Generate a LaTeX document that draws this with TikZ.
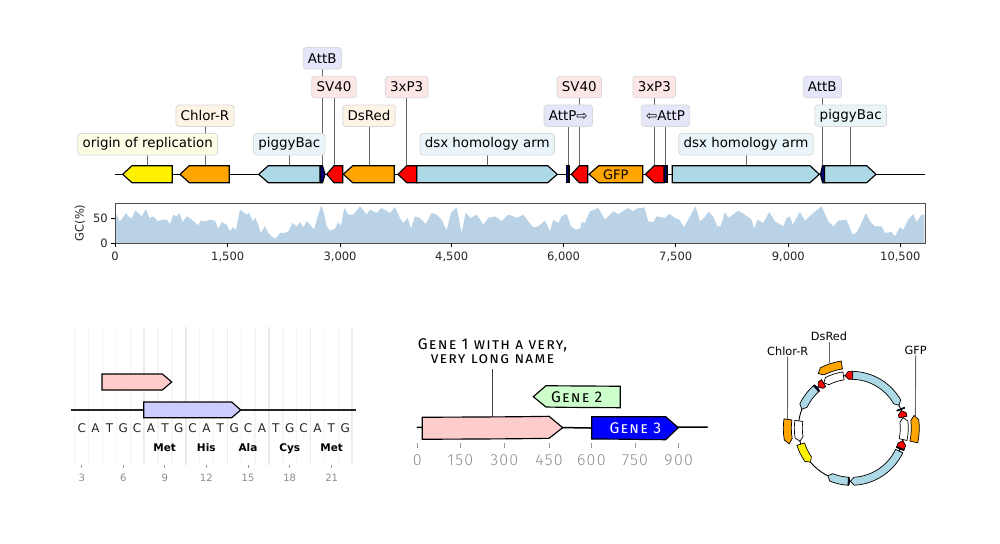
\documentclass[tikz,border=0pt]{standalone}
\usepackage{fontspec}
\setmainfont{DejaVu Sans}
\newfontfamily\comicfont[Letters=SmallCaps,LetterSpace=8]{Fira Sans}
\newfontfamily\comicnumfont[LetterSpace=8]{Fira Sans Light}
\usetikzlibrary{backgrounds}
\definecolor{tintyellow}{HTML}{FDFDE6}
\definecolor{tintorange}{HTML}{FDF4E5}
\definecolor{tintblue}{HTML}{E9F5F8}
\definecolor{tintred}{HTML}{FDE6E6}
\definecolor{tintnavy}{HTML}{E6E6FA}
\definecolor{gcfill}{HTML}{B9D2E6}
\definecolor{navy}{HTML}{000080}
\definecolor{orange}{HTML}{FFA500}
\definecolor{geneblue}{HTML}{ADD8E6}
\definecolor{genepink}{HTML}{FFCCCC}
\definecolor{genelilac}{HTML}{CCCCFF}
\definecolor{genemint}{HTML}{CCFFCC}
\begin{document}
\begin{tikzpicture}[x=1pt, y=-1pt,
    tag/.style={draw=black!15, line width=0.8pt, rounded corners=3pt, minimum height=21.5pt, inner xsep=4.8pt, inner ysep=0pt, font=\fontsize{13.4}{15}\selectfont},
    tagline/.style={draw=black!60, line width=0.9pt},
    gene/.style={draw=black, line width=1.15pt, line join=miter},
    backbone/.style={draw=black, line width=1.6pt},
    tick/.style={draw=black, line width=0.8pt},
    ticktext/.style={font=\fontsize{11.5}{13}\selectfont, text=black!85, inner sep=0pt},
    gridline/.style={draw=black!4, line width=1.4pt},
    griddark/.style={draw=black!8, line width=1.6pt},
    seqtick/.style={draw=black!40, line width=0.8pt},
    seqnum/.style={font=\fontsize{10}{12}\selectfont, text=black!45, inner sep=0pt, anchor=base},
    comic/.style={font=\comicfont\fontsize{15.5}{14.5}\selectfont, align=center, inner sep=0pt},
    comicnum/.style={font=\comicnumfont\fontsize{16}{14}\selectfont, text=black!45, inner sep=0pt, anchor=base},
    ringtag/.style={font=\fontsize{11.3}{13}\selectfont, inner sep=1pt}
]
    \useasboundingbox (0,0) rectangle (1000,543);

    % Top: linear map with stacked labels
    \draw[backbone] (115,174.3) -- (925,174.3);
    \foreach \name/\x/\y/\txt/\tint in {
        Ori/147.7/144.3/origin of replication/tintyellow,
        Chlor/205/115.7/Chlor-R/tintorange,
        PigA/289.3/144.3/piggyBac/tintblue,
        AttBa/322.3/58.3/AttB/tintnavy,
        SVa/334/87/SV40/tintred,
        Red/369/115.7/DsRed/tintorange,
        PThreeA/406.7/87/3xP3/tintred,
        DsxA/487.2/144.3/dsx homology arm/tintblue,
        AttPa/568.3/115.7/AttP⇨/tintnavy,
        SVb/579.3/87/SV40/tintred,
        PThreeB/654.3/87/3xP3/tintred,
        AttPb/665.5/115.7/⇦AttP/tintnavy,
        DsxB/746/144.3/dsx homology arm/tintblue,
        AttBb/822.3/87/AttB/tintnavy,
        PigB/850.7/115.7/piggyBac/tintblue} {
        \node[tag, fill=\tint] (tag\name) at (\x,\y) {\txt};
        \coordinate (ft\name) at (\x,165.7);
        \begin{scope}[on background layer]
            \draw[tagline] (tag\name) -- (ft\name);
        \end{scope}
    }
    \foreach \tip/\sh/\bk/\col in {
        122.7/132/172.3/yellow, 180/189.3/229.3/orange, 258.7/268.3/320/geneblue,
        325/322.5/320.5/navy, 326.7/334/342.7/red, 343.3/352.7/394.3/orange,
        398/406.7/416.7/red, 557.3/547.7/416.7/geneblue, 566.7/566.7/569/navy,
        571.3/579.3/587.7/red, 589/598.7/642.7/orange, 645.3/654.3/664/red,
        664.7/664.7/667/navy, 819.3/810/672.3/geneblue, 820.5/822.5/824.5/navy,
        876/866.7/824.5/geneblue} {
        \draw[gene, fill=\col] (\tip,174.3) -- (\sh,165.7) -- (\bk,165.7) -- (\bk,182.7) -- (\sh,182.7) -- cycle;
    }
    \node[font=\fontsize{13}{15}\selectfont, inner sep=0pt] (txtGfp) at (615.8,174.3) {GFP};

    % GC content under the map
    \begin{scope}[shift={(110,198)}, x=0.3333pt, y=-0.3333pt]
        \fill[gcfill] (15,135) -- plot coordinates {
            (15,40)(22,55)(28,70)(35,65)(40,55)(48,45)(55,55)(65,62)(75,38)(85,45)(95,55)(108,33)(118,60)
            (130,55)(145,70)(155,65)(170,65)(180,78)(190,50)(200,55)(208,45)(218,72)(230,55)(245,65)(265,82)
            (272,68)(285,70)(300,65)(315,68)(325,92)(335,72)(350,80)(360,100)(368,88)(378,95)(390,35)(400,42)
            (410,50)(418,45)(428,70)(436,60)(445,80)(452,105)(465,85)(475,105)(485,115)(497,122)(510,105)
            (525,105)(535,100)(548,75)(560,85)(570,72)(580,88)(590,70)(600,80)(612,95)(622,60)(634,22)(642,45)
            (650,85)(660,98)(675,92)(685,72)(693,85)(703,30)(715,50)(730,50)(750,25)(770,50)(780,35)(800,45)
            (815,30)(840,45)(855,27)(870,60)(880,75)(893,60)(903,92)(915,55)(930,60)(947,78)(965,45)(980,50)
            (995,65)(1010,97)(1023,45)(1040,28)(1055,105)(1067,45)(1083,60)(1100,50)(1120,80)(1135,60)(1155,55)
            (1175,70)(1195,50)(1210,55)(1220,60)(1240,50)(1255,70)(1270,88)(1285,85)(1305,68)(1320,100)(1330,65)
            (1345,75)(1355,55)(1370,48)(1383,85)(1397,95)(1410,92)(1415,72)(1425,75)(1440,40)(1465,30)(1485,65)
            (1510,40)(1525,48)(1555,30)(1570,40)(1580,32)(1603,28)(1615,70)(1630,72)(1640,55)(1665,60)(1678,48)
            (1695,60)(1708,65)(1722,88)(1740,55)(1757,25)(1770,70)(1782,60)(1795,42)(1810,55)(1822,85)(1832,85)
            (1845,42)(1855,60)(1885,38)(1905,50)(1925,65)(1933,92)(1943,65)(1960,75)(1978,42)(1995,70)(2020,85)
            (2030,60)(2040,55)(2048,80)(2070,42)(2085,68)(2110,45)(2135,25)(2155,70)(2170,85)(2185,68)(2210,65)
            (2228,110)(2240,103)(2250,85)(2268,45)(2280,70)(2295,85)(2315,85)(2325,105)(2345,102)(2355,115)
            (2370,88)(2380,95)(2395,65)(2410,48)(2420,72)(2435,50)(2443,50)} -- (2443,135) -- cycle;
    \end{scope}
    \node[draw=black!70, line width=0.9pt, minimum width=810pt, minimum height=40.6pt, inner sep=0pt, anchor=north west] (gcframe) at (115,202.7) {};
    \foreach \x/\txt in {115/0, 227.7/{1,500}, 340/{3,000}, 451.7/{4,500}, 563.5/{6,000}, 675.7/{7,500}, 788.3/{9,000}, 900.3/{10,500}} {
        \draw[tick] (\x,243.3) -- (\x,247);
        \node[ticktext, anchor=base] at (\x,260.9) {\txt};
    }
    \foreach \y/\txt in {243.3/0, 218.3/50} {
        \draw[tick] (115,\y) -- (111,\y);
        \node[ticktext, anchor=east] at (108,\y) {\txt};
    }
    \node[ticktext, rotate=90] (gclabel) at (80,223) {GC(\%)};

    % Bottom left: sequence view
    \foreach \p in {2.5,3.5,...,22.5} {
        \draw[gridline] ({81.7+(\p-3)*13.87},327) -- ({81.7+(\p-3)*13.87},465);
    }
    \foreach \p in {7.5,10.5,...,22.5} {
        \draw[griddark] ({81.7+(\p-3)*13.87},327) -- ({81.7+(\p-3)*13.87},465);
    }
    \draw[gene, fill=genepink] (171.7,382) -- (162.3,374) -- (102,374) -- (102,390) -- (162.3,390) -- cycle;
    \draw[backbone, draw=black!85] (70.7,410) -- (356,410);
    \draw[gene, fill=genelilac] (240.7,410) -- (231.7,402) -- (143.7,402) -- (143.7,417.7) -- (231.7,417.7) -- cycle;
    \foreach \p/\b in {3/C,4/A,5/T,6/G,7/C,8/A,9/T,10/G,11/C,12/A,13/T,14/G,15/C,16/A,17/T,18/G,19/C,20/A,21/T,22/G} {
        \node[font=\fontsize{12}{14}\selectfont, text=black!85, inner sep=0pt, anchor=base] at ({81.7+(\p-3)*13.87},432.7) {\b};
    }
    \foreach \x/\aa in {164.7/Met, 206.3/His, 248/Ala, 289.7/Cys, 331.7/Met} {
        \node[font=\fontsize{10.5}{12}\selectfont\bfseries, inner sep=0pt, anchor=base] at (\x,451.5) {\aa};
    }
    \foreach \x/\txt in {81.7/3, 123.3/6, 164.7/9, 206.3/12, 248/15, 289.7/18, 331.7/21} {
        \draw[seqtick] (\x,465) -- (\x,468.3);
        \node[seqnum] at (\x,481) {\txt};
    }

    % Bottom middle: hand drawn look
    \node[comic] (tagGeneOne) at (492.5,351) {Gene 1 with a very,\\very long name};
    \coordinate (ftGeneOne) at (492,416.7);
    \draw[line width=0.8pt, draw=black!75] (492,369.3) -- (ftGeneOne);
    \draw[line width=1.5pt, line cap=round] (417.3,427.3) .. controls (480,428) and (540,427) .. (590,428) .. controls (630,428.5) and (670,427) .. (707.3,427);
    \draw[gene, fill=genepink] (422.3,417.3) .. controls (460,417) and (510,417) .. (549,416.3) -- (562.7,427.7) -- (549,438.3) .. controls (510,439) and (460,439) .. (422.3,439.3) -- cycle;
    \draw[gene, fill=genemint] (533.3,396.7) -- (546,385.7) .. controls (570,386) and (600,386) .. (620.3,386.3) -- (620.3,407.7) .. controls (595,407.5) and (570,407.5) .. (546,407) -- cycle;
    \node[comic] (txtGeneTwo) at (576.7,396.7) {Gene 2};
    \draw[gene, fill=blue] (591.7,416.7) -- (665.7,416.7) -- (678.3,427.7) -- (665.7,439.7) .. controls (640,439.5) and (615,439) .. (591.7,439) -- cycle;
    \node[comic, text=white] (txtGeneThree) at (635.3,428.3) {Gene 3};
    \foreach \x/\txt in {417.3/0, 460.3/150, 504.3/300, 549/450, 591.3/600, 635/750, 678.7/900} {
        \draw[seqtick] (\x,443.3) -- (\x,448.3);
        \node[comicnum] at (\x,465.5) {\txt};
    }

    % Bottom right: circular map
    \node[ringtag] (tagRingChlor) at (787.7,351) {Chlor-R};
    \node[ringtag] (tagRingRed) at (829,336.7) {DsRed};
    \node[ringtag] (tagRingGfp) at (915.7,350) {GFP};
    \coordinate (ftRingChlor) at (787.5,419.5);
    \coordinate (ftRingRed) at (829,362.5);
    \coordinate (ftRingGfp) at (915.4,416);
    \draw[tagline] (tagRingChlor) -- (ftRingChlor);
    \draw[tagline] (tagRingRed) -- (ftRingRed);
    \draw[tagline] (tagRingGfp) -- (ftRingGfp);
    \begin{scope}[shift={(851.3,428.3)}]
        \draw[line width=0.9pt] (0,0) circle (53pt);
        \foreach \tip/\sh/\bk/\r/\col in {
            219.6/215.4/197.4/53/yellow, 194/189.9/172/53/white, 194/189.9/172/64/orange,
            158.9/154.6/131.6/53/geneblue, 129.4/130.4/131.4/53/navy, 128.6/125.3/121.5/53/red,
            121.2/117/98.5/53/white, 121.2/117/98.5/64/orange, 96.8/92.9/88.5/53/red,
            25.8/30/88.5/53/geneblue, 20.6/20.6/21.6/53/navy, 19.5/15.9/12.2/53/red,
            11.6/7.3/-12.3/53/white, 11.6/7.3/-12.3/64/orange, -13.5/-17.5/-21.8/53/red,
            -23.1/-23.1/-22.1/53/navy, -91/-86.9/-25.5/53/geneblue, -91.6/-92.5/-93.4/53/navy,
            -116.3/-112.2/-93.4/53/geneblue} {
            \draw[fill=\col, draw=black, line width=0.7pt] (\tip:\r pt) -- (\sh:\r pt+4pt)
                arc[start angle=\sh, end angle=\bk, radius=\r pt+4pt] -- (\bk:\r pt-4pt)
                arc[start angle=\bk, end angle=\sh, radius=\r pt-4pt] -- cycle;
        }
    \end{scope}
\end{tikzpicture}
\end{document}
